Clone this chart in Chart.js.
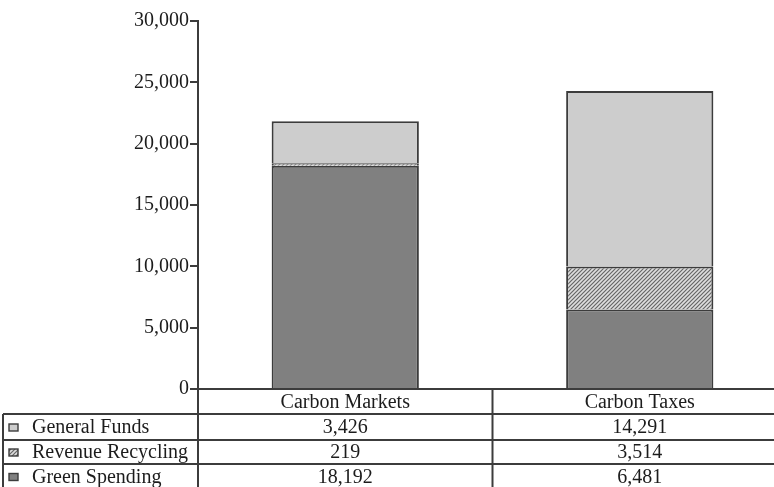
<!DOCTYPE html>
<html>
<head>
<style>
  html, body { margin: 0; padding: 0; background: #fff; overflow: hidden; }
  #wrap { width: 790px; height: 487px; }
</style>
</head>
<body>
<div id="wrap"><canvas id="myChart" width="790" height="487"></canvas></div>

<script src="https://cdn.jsdelivr.net/npm/chart.js"></script>
<script>
// categories and series (stacked from bottom to top)
const categories = ['Carbon Markets', 'Carbon Taxes'];
const greenSpending = [18192, 6481];
const revenueRecycling = [219, 3514];
const generalFunds = [3426, 14291];
const yTicks = [0, 5000, 10000, 15000, 20000, 25000, 30000];

const serif = '"Liberation Serif", "DejaVu Serif", serif';
const ink = '#1c1c1c';
const lineCol = '#3c3c3c';

// diagonal hatch for revenue recycling
function makeHatch() {
    const c = document.createElement('canvas');
    c.width = 4; c.height = 4;
    const g = c.getContext('2d');
    g.fillStyle = '#dedede';
    g.fillRect(0, 0, 4, 4);
    g.strokeStyle = '#666';
    g.lineWidth = 1.2;
    g.beginPath();
    g.moveTo(-1, 5); g.lineTo(5, -1);
    g.moveTo(-1, 1); g.lineTo(1, -1);
    g.moveTo(3, 5); g.lineTo(5, 3);
    g.stroke();
    return g.createPattern(c, 'repeat');
}
const hatch = makeHatch();

const fmt = v => v.toLocaleString('en-US');

// rows of the table under the plot, top to bottom
const tableRows = [
    { label: 'General Funds', values: generalFunds, fill: '#cdcdcd' },
    { label: 'Revenue Recycling', values: revenueRecycling, fill: hatch },
    { label: 'Green Spending', values: greenSpending, fill: '#808080' }
];

// draws the data table below the axis
const dataTable = {
    id: 'dataTable',
    afterDraw(chart) {
        const ctx = chart.ctx;
        const x = chart.scales.x;
        const area = chart.chartArea;
        const left = area.left;
        const right = x.right;
        const mid = (x.getPixelForValue(0) + x.getPixelForValue(1)) / 2;
        const boxLeft = 3;
        const rowTops = [area.bottom, 414, 440, 464];
        const bottom = chart.height;

        ctx.save();
        ctx.strokeStyle = lineCol;
        ctx.lineWidth = 2;
        ctx.beginPath();
        // header line
        ctx.moveTo(left, rowTops[0]); ctx.lineTo(right, rowTops[0]);
        for (let i = 1; i < rowTops.length; i++) {
            ctx.moveTo(boxLeft, rowTops[i]); ctx.lineTo(right, rowTops[i]);
        }
        ctx.moveTo(left, rowTops[0]); ctx.lineTo(left, bottom);
        ctx.moveTo(mid, rowTops[0]); ctx.lineTo(mid, bottom);
        ctx.moveTo(boxLeft, rowTops[1]); ctx.lineTo(boxLeft, bottom);
        ctx.stroke();

        ctx.fillStyle = ink;
        ctx.font = '20px ' + serif;
        ctx.textBaseline = 'middle';
        ctx.textAlign = 'center';
        categories.forEach((c, i) => {
            ctx.fillText(c, x.getPixelForValue(i), (rowTops[0] + rowTops[1]) / 2 + 1);
        });

        tableRows.forEach((row, r) => {
            const top = rowTops[r + 1];
            const bot = r + 2 < rowTops.length ? rowTops[r + 2] : bottom + 2;
            const cy = (top + bot) / 2 + 1;
            // legend swatch
            ctx.fillStyle = row.fill;
            ctx.fillRect(9, cy - 4, 9, 7);
            ctx.lineWidth = 1.4;
            ctx.strokeStyle = lineCol;
            ctx.strokeRect(9, cy - 4, 9, 7);
            ctx.fillStyle = ink;
            ctx.textAlign = 'left';
            ctx.fillText(row.label, 32, cy);
            ctx.textAlign = 'center';
            row.values.forEach((v, i) => {
                ctx.fillText(fmt(v), x.getPixelForValue(i), cy);
            });
        });
        ctx.restore();
    }
};

let ctx = document.getElementById('myChart').getContext('2d');
let chart = new Chart(ctx, {
    type: 'bar',
    data: {
        labels: categories,
        datasets: [
            { label: 'Green Spending', data: greenSpending, backgroundColor: '#808080' },
            { label: 'Revenue Recycling', data: revenueRecycling, backgroundColor: hatch },
            { label: 'General Funds', data: generalFunds, backgroundColor: '#cdcdcd' }
        ].map(d => Object.assign(d, {
            borderColor: lineCol,
            borderWidth: 2,
            borderSkipped: 'start',
            barPercentage: 1,
            categoryPercentage: 0.5
        }))
    },
    options: {
        responsive: false,
        animation: false,
        layout: { padding: { top: 21, right: 3, bottom: 98, left: 0 } },
        plugins: {
            legend: { display: false },
            tooltip: { enabled: false }
        },
        scales: {
            x: {
                stacked: true,
                display: false
            },
            y: {
                stacked: true,
                min: 0,
                max: 30000,
                afterBuildTicks(scale) {
                    scale.ticks = yTicks.map(v => ({ value: v }));
                },
                afterFit(scale) {
                    scale.width = 198;
                },
                grid: {
                    drawOnChartArea: false,
                    drawTicks: true,
                    tickLength: 8,
                    color: lineCol,
                    lineWidth: 2
                },
                border: { display: true, color: lineCol, width: 2 },
                ticks: {
                    padding: 1,
                    color: ink,
                    font: { family: serif, size: 20 },
                    callback: v => fmt(v)
                }
            }
        }
    },
    plugins: [dataTable]
});
</script>
</body>
</html>
